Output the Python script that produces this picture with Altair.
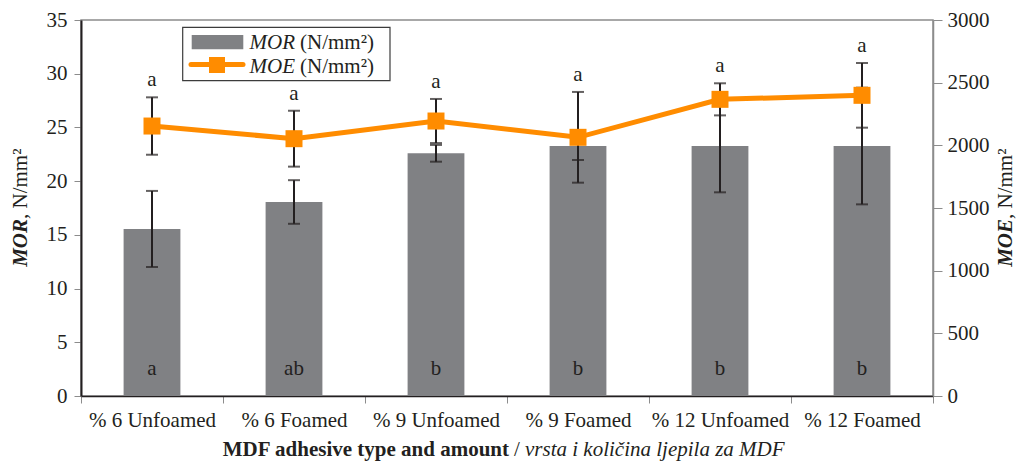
import altair as alt
import pandas as pd

categories = ["% 6 Unfoamed", "% 6 Foamed", "% 9 Unfoamed", "% 9 Foamed", "% 12 Unfoamed", "% 12 Foamed"]
mor = [15.55, 18.06, 22.59, 23.27, 23.27, 23.27]
mor_err = [3.54, 2.03, 0.78, 1.30, 4.31, 5.43]
moe = [2154, 2053, 2194, 2064, 2367, 2399]
moe_err = [229, 223, 176, 362, 128, 258]
mor_letters = ["a", "ab", "b", "b", "b", "b"]
moe_letters = ["a", "a", "a", "a", "a", "a"]

df = pd.DataFrame({
    "cat": categories,
    "mor": mor,
    "mor_err": mor_err,
    "moe": moe,
    "moe_err": moe_err,
    "mor_letter": mor_letters,
    "moe_letter": moe_letters,
})
df["mor_lo"] = df["mor"] - df["mor_err"]
df["mor_hi"] = df["mor"] + df["mor_err"]
df["moe_lo"] = df["moe"] - df["moe_err"]
df["moe_hi"] = df["moe"] + df["moe_err"]

FONT = "Liberation Serif"
DARK = "#231F20"
BAR = "#808184"
ORANGE = "#FF8C00"
TICKC = "#8C8C8C"
FS = 21
W, H = 852, 376

base = alt.Chart(df)

x_axis = alt.Axis(title=None, labelAngle=0, tickBand="extent", tickSize=7, tickColor=TICKC,
                  domainColor=DARK, domainWidth=1.5, labelPadding=6, labelFont=FONT,
                  labelFontSize=FS, labelColor=DARK, grid=False)
x_enc = alt.X("cat:N", sort=categories, scale=alt.Scale(paddingInner=0, paddingOuter=0), axis=x_axis)

mor_scale = alt.Scale(domain=[0, 35], nice=False, zero=True)
moe_scale = alt.Scale(domain=[0, 3000], nice=False, zero=True)

left_axis = alt.Axis(title=None, values=list(range(0, 36, 5)), format="d", tickSize=7, tickColor=TICKC,
                     domainColor=DARK, domainWidth=2, labelPadding=7, labelFont=FONT,
                     labelFontSize=FS, labelColor=DARK, grid=False, orient="left")
right_axis = alt.Axis(title=None, values=list(range(0, 3001, 500)), format="d", tickSize=9,
                      tickColor=TICKC, domainColor=TICKC, domainWidth=1.5, labelPadding=5,
                      labelFont=FONT, labelFontSize=FS, labelColor=DARK, grid=False, orient="right")


def ymor(field):
    return alt.Y(field, type="quantitative", scale=mor_scale, axis=left_axis)


def ymoe(field):
    return alt.Y(field, type="quantitative", scale=moe_scale, axis=right_axis)


bars = base.mark_bar(color=BAR, width=alt.RelativeBandSize(0.4)).encode(x=x_enc, y=ymor("mor"))
mor_rule = base.mark_rule(color=DARK, strokeWidth=2).encode(x=x_enc, y=ymor("mor_lo"), y2="mor_hi:Q")
mor_cap_lo = base.mark_tick(color=DARK, thickness=2, size=12, orient="horizontal").encode(
    x=x_enc, y=ymor("mor_lo"))
mor_cap_hi = base.mark_tick(color=DARK, thickness=2, size=12, orient="horizontal").encode(
    x=x_enc, y=ymor("mor_hi"))
mor_text = base.mark_text(font=FONT, fontSize=FS, color=DARK, baseline="alphabetic", dy=-21).encode(
    x=x_enc, y=alt.YDatum(0, type="quantitative", scale=mor_scale, axis=left_axis),
    text="mor_letter:N")

left = alt.layer(bars, mor_rule, mor_cap_lo, mor_cap_hi, mor_text)

moe_rule = base.mark_rule(color=DARK, strokeWidth=2).encode(x=x_enc, y=ymoe("moe_lo"), y2="moe_hi:Q")
moe_cap_lo = base.mark_tick(color=DARK, thickness=2, size=12, orient="horizontal").encode(
    x=x_enc, y=ymoe("moe_lo"))
moe_cap_hi = base.mark_tick(color=DARK, thickness=2, size=12, orient="horizontal").encode(
    x=x_enc, y=ymoe("moe_hi"))
moe_line = base.mark_line(color=ORANGE, strokeWidth=5).encode(x=x_enc, y=ymoe("moe"))
moe_pts = base.mark_square(color=ORANGE, size=289, opacity=1).encode(x=x_enc, y=ymoe("moe"))
moe_text = base.mark_text(font=FONT, fontSize=FS, color=DARK, baseline="alphabetic", dy=-11).encode(
    x=x_enc, y=ymoe("moe_hi"), text="moe_letter:N")

right = alt.layer(moe_rule, moe_cap_lo, moe_cap_hi, moe_line, moe_pts, moe_text)

one = alt.Chart(pd.DataFrame({"k": [0]}))

# legend
leg_box = one.mark_rect(fill="white", stroke="#3C3C3C", strokeWidth=1.2).encode(
    x=alt.value(101.7), x2=alt.value(309), y=alt.value(7.3), y2=alt.value(60.7))
leg_sw = one.mark_rect(fill=BAR).encode(
    x=alt.value(110.7), x2=alt.value(162.3), y=alt.value(15), y2=alt.value(29.3))
leg_line = one.mark_rule(color=ORANGE, strokeWidth=5, strokeCap="round").encode(
    x=alt.value(110), x2=alt.value(162), y=alt.value(44.5))
leg_sq = one.mark_square(color=ORANGE, size=256, opacity=1).encode(
    x=alt.value(136), y=alt.value(45))
leg_t1a = one.mark_text(font=FONT, fontSize=FS, fontStyle="italic", color=DARK, align="right",
                        baseline="alphabetic", text="MOR").encode(x=alt.value(214), y=alt.value(29))
leg_t1b = one.mark_text(font=FONT, fontSize=FS, color=DARK, align="left",
                        baseline="alphabetic", text="(N/mm²)").encode(x=alt.value(219), y=alt.value(29))
leg_t2a = one.mark_text(font=FONT, fontSize=FS, fontStyle="italic", color=DARK, align="right",
                        baseline="alphabetic", text="MOE").encode(x=alt.value(214), y=alt.value(53))
leg_t2b = one.mark_text(font=FONT, fontSize=FS, color=DARK, align="left",
                        baseline="alphabetic", text="(N/mm²)").encode(x=alt.value(219), y=alt.value(53))

# axis titles
lt_a = one.mark_text(font=FONT, fontSize=FS, fontWeight="bold", fontStyle="italic", color=DARK,
                     align="right", baseline="middle", angle=270, text="MOR").encode(
    x=alt.value(-60), y=alt.value(199))
lt_b = one.mark_text(font=FONT, fontSize=FS, color=DARK, align="left", baseline="middle",
                     angle=270, text=", N/mm²").encode(x=alt.value(-60), y=alt.value(199))
rt_a = one.mark_text(font=FONT, fontSize=FS, fontWeight="bold", fontStyle="italic", color=DARK,
                     align="right", baseline="middle", angle=270, text="MOE").encode(
    x=alt.value(925), y=alt.value(199))
rt_b = one.mark_text(font=FONT, fontSize=FS, color=DARK, align="left", baseline="middle",
                     angle=270, text=", N/mm²").encode(x=alt.value(925), y=alt.value(199))
xt_a = one.mark_text(font=FONT, fontSize=FS, fontWeight="bold", color=DARK, align="right",
                     baseline="alphabetic", text="MDF adhesive type and amount").encode(
    x=alt.value(428), y=alt.value(436))
xt_b = one.mark_text(font=FONT, fontSize=FS, color=DARK, align="center",
                     baseline="alphabetic", text="/").encode(x=alt.value(436), y=alt.value(436))
xt_c = one.mark_text(font=FONT, fontSize=FS, fontStyle="italic", color=DARK, align="left",
                     baseline="alphabetic", text="vrsta i količina ljepila za MDF").encode(
    x=alt.value(444), y=alt.value(436))

chart = alt.layer(
    left, right,
    leg_box, leg_sw, leg_line, leg_sq, leg_t1a, leg_t1b, leg_t2a, leg_t2b,
    lt_a, lt_b, rt_a, rt_b, xt_a, xt_b, xt_c,
).resolve_scale(y="independent").properties(
    width=W, height=H,
    autosize=alt.AutoSizeParams(type="none"),
    padding={"left": 73, "top": 12, "right": 85, "bottom": 67},
    background="white",
).configure_view(stroke="#8C8C8C", strokeWidth=1.5)

chart.save("out.html", embed_options={"renderer": "svg", "actions": False})
